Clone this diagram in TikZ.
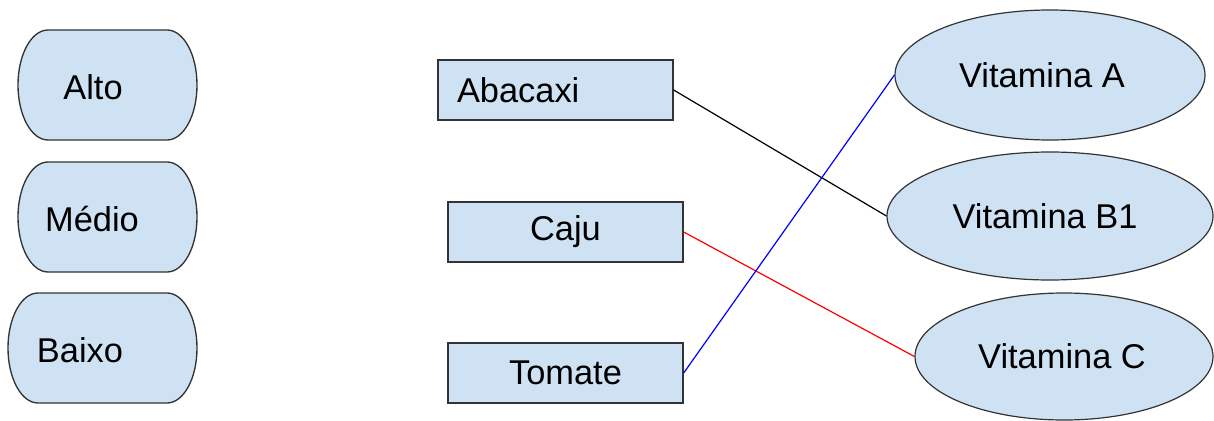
\documentclass[tikz,border=0pt]{standalone}
\usepackage{fontspec}
\setmainfont{Liberation Sans}
\usetikzlibrary{shapes.geometric}
\definecolor{boxfill}{HTML}{CFE2F3}
\definecolor{boxline}{HTML}{333333}
\newcommand\lblfont{\fontsize{25.8}{31}\selectfont}
\begin{document}
\begin{tikzpicture}[x=0.75pt,y=-0.75pt,
  pill/.style={draw=boxline,fill=boxfill,line width=1pt},
  lbl/.style={font=\lblfont,inner sep=0pt},
  rectbox/.style={draw=boxline,fill=boxfill,line width=1pt,rectangle,
    minimum width=176.25pt,minimum height=45pt,inner sep=0pt,
    font=\lblfont},
  ellbox/.style={draw=boxline,fill=boxfill,line width=0.9pt,ellipse,
    inner sep=0pt,font=\lblfont},
  conn/.style={line width=0.9pt}]
\useasboundingbox (0,0) rectangle (1214,421);
% left pill boxes
\draw[pill] (48,30) -- (167,30) .. controls (183.6,30) and (197,54.6) .. (197,85)
  .. controls (197,115.4) and (183.6,140) .. (167,140)
  -- (48,140) .. controls (31.4,140) and (18,115.4) .. (18,85)
  .. controls (18,54.6) and (31.4,30) .. cycle;
\draw[pill] (48,162) -- (167,162) .. controls (183.6,162) and (197,186.6) .. (197,217)
  .. controls (197,247.4) and (183.6,272) .. (167,272)
  -- (48,272) .. controls (31.4,272) and (18,247.4) .. (18,217)
  .. controls (18,186.6) and (31.4,162) .. cycle;
\draw[pill] (38,293) -- (167,293) .. controls (183.6,293) and (197,317.6) .. (197,348)
  .. controls (197,378.4) and (183.6,403) .. (167,403)
  -- (38,403) .. controls (21.4,403) and (8,378.4) .. (8,348)
  .. controls (8,317.6) and (21.4,293) .. cycle;
\node[lbl] (alto) at (93,87) {Alto};
\node[lbl] (medio) at (92,219) {Médio};
\node[lbl] (baixo) at (80,350) {Baixo};
% rectangles
\node[rectbox,text width=147.75pt,align=left,inner xsep=14.25pt] (aba) at (555.5,90) {Abacaxi};
\node[rectbox] (caju) at (565.5,232) {Caju};
\node[rectbox] (tom) at (565.5,373) {Tomate};
% ellipses
\node[ellbox,minimum width=232.5pt,minimum height=97.5pt] (va) at (1050,75) {\kern-12pt Vitamina A};
\node[ellbox,minimum width=244.5pt,minimum height=96pt] (vb) at (1050,216) {\kern-7.5pt Vitamina B1};
\node[ellbox,minimum width=223.5pt,minimum height=95.25pt] (vc) at (1064,356.5) {\kern-3pt Vitamina C};
% connectors
\draw[conn,black] (aba.east) -- (vb.west);
\draw[conn,red] (caju.east) -- (vc.west);
\draw[conn,blue] (tom.east) -- (va.west);
\end{tikzpicture}
\end{document}
